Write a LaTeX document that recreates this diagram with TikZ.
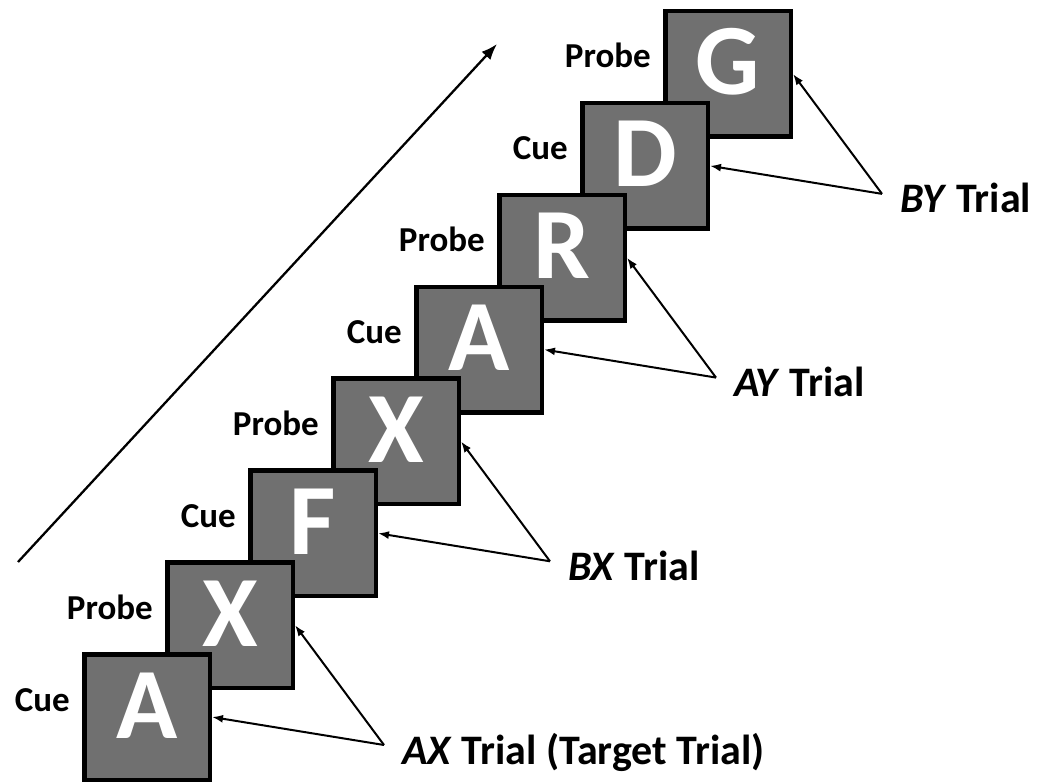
\documentclass[tikz,border=0pt]{standalone}
\usepackage{fontspec}
\setmainfont{Carlito}
\usetikzlibrary{arrows.meta,calc}
\definecolor{boxgray}{HTML}{707070}
\begin{document}
\begin{tikzpicture}[x=1pt,y=-1pt,
  sq/.style={draw=black, line width=4.5pt, fill=boxgray, minimum width=125.5pt, minimum height=125.5pt, inner sep=0pt},
  letter/.style={anchor=base, text=white, font=\fontsize{101}{101}\selectfont\bfseries, inner sep=0pt},
  lab/.style={anchor=base east, font=\fontsize{35}{35}\selectfont\bfseries, inner sep=0pt},
  trial/.style={anchor=base west, font=\fontsize{42}{42}\selectfont\bfseries, inner sep=0pt},
  ptr/.style={line width=2pt, -{Latex[length=11pt,width=8pt]}},
  timearrow/.style={line width=2.3pt, -{Latex[length=16pt,width=12pt]}}]
\useasboundingbox (0,0) rectangle (1037,783);
% squares, top first so lower ones lie on top
\foreach \i/\L in {7/G,6/D,5/R,4/A,3/X,2/F,1/X,0/A}{
  \node[sq] (s\i) at ({147+83*\i},{717-91.857*\i}) {};
  \node[letter] (l\i) at ($(s\i.center)+(0,21)$) {\L};
}
% Cue / Probe labels
\foreach \i/\T in {0/Cue,1/Probe,2/Cue,3/Probe,4/Cue,5/Probe,6/Cue,7/Probe}{
  \node[lab] (c\i) at ($(s\i.center)+(-77,-6)$) {\T};
}
% trial pointers
\foreach \k/\c/\p in {0/0/1,1/2/3,2/4/5,3/6/7}{
  \coordinate (p\k) at ($(s\c.center)+(237,28)$);
  \draw[ptr] (p\k) -- (s\c.east);
  \draw[ptr] (p\k) -- (s\p.east);
}
\node[trial] (t0) at ($(p0)+(18,19)$) {\textit{AX} Trial (Target Trial)};
\node[trial] (t1) at ($(p1)+(18,19)$) {\textit{BX} Trial};
\node[trial] (t2) at ($(p2)+(18,19)$) {\textit{AY} Trial};
\node[trial] (t3) at ($(p3)+(18,19)$) {\textit{BY} Trial};
% time arrow
\coordinate (ta) at (18,562);
\coordinate (tb) at (497,44);
\draw[timearrow] (ta) -- (tb);
\end{tikzpicture}
\end{document}
